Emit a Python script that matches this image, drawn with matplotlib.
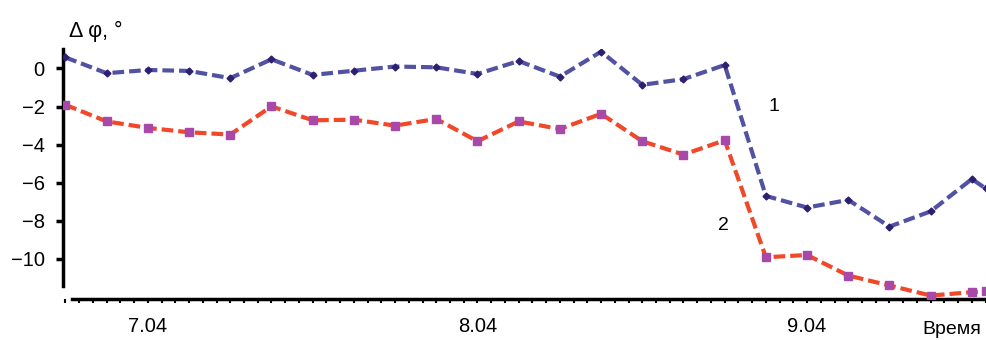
import matplotlib
matplotlib.use("Agg")
import matplotlib.pyplot as plt
from matplotlib.ticker import FixedLocator, MultipleLocator

plt.rcParams['font.family'] = ['Liberation Sans', 'DejaVu Sans']

# time in hours from the first reading
hours = [0, 3, 6, 9, 12, 15, 18, 21, 24, 27, 30, 33, 36, 39, 42, 45,
         48, 51, 54, 57, 60, 63, 66, 67]

# curve 1 (blue) and curve 2 (red), degrees
dphi_1 = [0.58, -0.25, -0.08, -0.13, -0.51, 0.48, -0.34, -0.12, 0.10, 0.06,
          -0.29, 0.39, -0.43, 0.88, -0.86, -0.56, 0.18, -6.69, -7.30, -6.90,
          -8.30, -7.50, -5.80, -6.30]
dphi_2 = [-1.91, -2.78, -3.12, -3.35, -3.47, -1.99, -2.72, -2.69, -3.00, -2.65,
          -3.82, -2.78, -3.18, -2.38, -3.82, -4.52, -3.77, -9.91, -9.79, -10.87,
          -11.39, -11.92, -11.74, -11.70]

day_ticks = [6, 30, 54]
day_labels = ["7.04", "8.04", "9.04"]
y_ticks = [0, -2, -4, -6, -8, -10]

fig = plt.figure(figsize=(9.87, 3.40), dpi=100)
ax = fig.add_axes([62.7 / 987, 41 / 340, (987 - 62.7) / 987, (299 - 49.4) / 340])

ax.plot(hours, dphi_1, color="#5252a2", lw=3, ls=(0, (2.8, 1.2)),
        marker="D", ms=3.5, mfc="#2e2070", mec="#2e2070", zorder=3)
ax.plot(hours, dphi_2, color="#f04828", lw=3, ls=(0, (2.8, 1.2)),
        marker="s", ms=5.5, mfc="#a848a8", mec="#a848a8", zorder=3)

ax.set_xlim(-0.2, 67.1)
ax.set_ylim(-12.1, 1)

# axes look
ax.spines["top"].set_visible(False)
ax.spines["right"].set_visible(False)
ax.spines["left"].set_color("black")
ax.spines["left"].set_linewidth(2.5)
ax.spines["bottom"].set_color("black")
ax.spines["bottom"].set_linewidth(2.5)
ax.spines["left"].set_bounds(-11.4, 1)
ax.spines["bottom"].set_bounds(0.5, 67.1)

ax.set_yticks(y_ticks)
ax.tick_params(axis="y", length=5, width=2.5, color="black", pad=8, labelsize=14.5)

ax.xaxis.set_major_locator(FixedLocator(day_ticks))
ax.set_xticklabels(day_labels)
ax.xaxis.set_minor_locator(MultipleLocator(1))
ax.tick_params(axis="x", which="both", length=3, width=1.5, color="black",
               pad=10, labelsize=14.5)

ax.text(51.56, -1.99, "1", fontsize=14, ha="center", va="center")
ax.text(47.9, -8.22, "2", fontsize=14, ha="center", va="center")

fig.text(69 / 987, 1 - 31 / 340, "Δ φ, °", fontsize=15.5, ha="left", va="center")
fig.text(981 / 987, 6 / 340, "Время", fontsize=14, ha="right", va="baseline")

fig.savefig("out.png", dpi=100, facecolor="white")
